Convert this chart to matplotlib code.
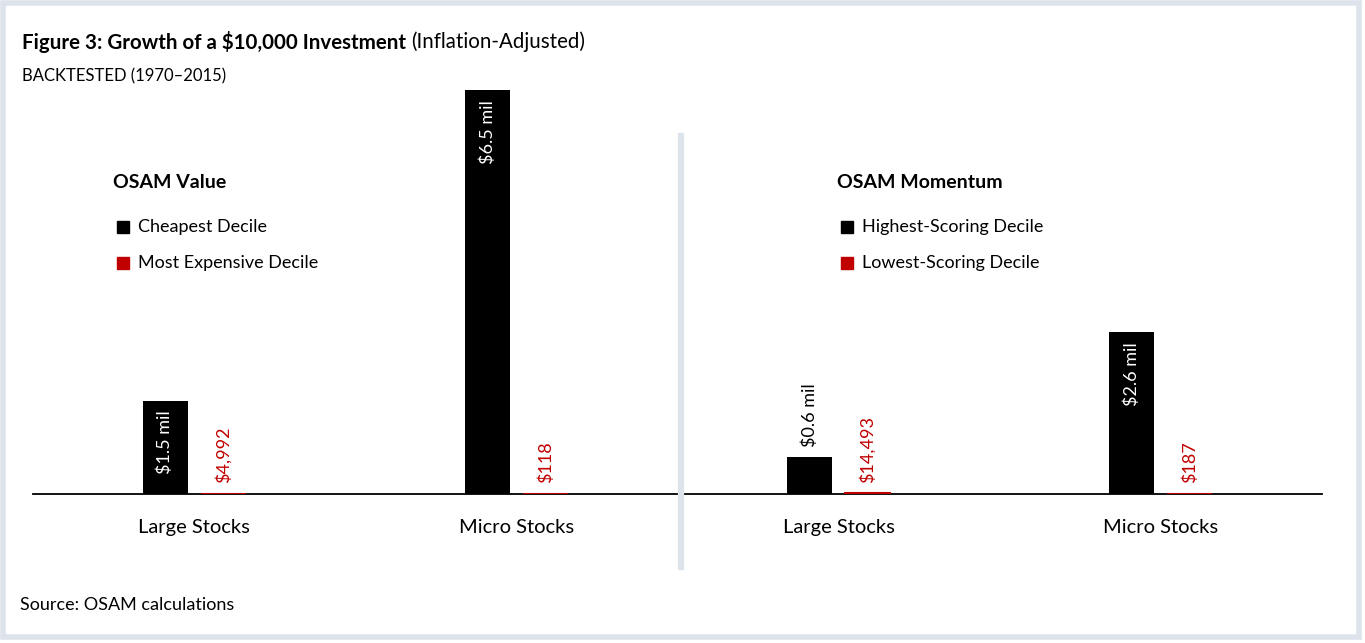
import matplotlib
matplotlib.use('Agg')
import matplotlib.pyplot as plt
from matplotlib.patches import Rectangle
from matplotlib.lines import Line2D
import numpy as np

plt.rcParams['font.family'] = ['Lato', 'DejaVu Sans']

# data (values in $ millions)
categories = ['Large Stocks', 'Micro Stocks', 'Large Stocks', 'Micro Stocks']
top_values = [1.5, 6.5, 0.6, 2.6]
bottom_values = [0.004992, 0.000118, 0.014493, 0.000187]
top_labels = ['$1.5 mil', '$6.5 mil', '$0.6 mil', '$2.6 mil']
bottom_labels = ['$4,992', '$118', '$14,493', '$187']
label_inside = [True, True, False, True]

panel_titles = ['OSAM Value', 'OSAM Momentum']
legend_top = ['Cheapest Decile', 'Highest-Scoring Decile']
legend_bottom = ['Most Expensive Decile', 'Lowest-Scoring Decile']

BLACK = '#000000'
RED = '#c00000'
FRAME = '#dce3ea'

W, H = 1365, 643
fig = plt.figure(figsize=(W / 100, H / 100), dpi=100)


def fx(px):
    return px / W


def fy(py):
    return 1 - py / H


ax = fig.add_axes([fx(33), fy(494), fx(1322) - fx(33), fy(90) - fy(494)])
x = np.arange(len(categories))
bw = 0.14
off = 0.09
ax.bar(x - off, top_values, bw, color=BLACK)
# red bars drawn over the baseline so the tiny ones still show
ax.bar(x + off, bottom_values, bw, color=RED, edgecolor=RED, linewidth=1.5, zorder=3)
ax.set_xlim(-0.5, 3.5)
ax.set_ylim(0, 6.5)
ax.set_yticks([])
ax.set_xticks(x)
ax.set_xticklabels(categories, fontsize=14.5)
ax.tick_params(axis='x', length=0, pad=18)
for s in ['top', 'left', 'right']:
    ax.spines[s].set_visible(False)
ax.spines['bottom'].set_linewidth(1.3)

for i in range(len(categories)):
    if label_inside[i]:
        ax.annotate(top_labels[i], (x[i] - off, top_values[i]), xytext=(0, -7),
                    textcoords='offset points', rotation=90, ha='center', va='top',
                    color='white', fontsize=13)
    else:
        ax.annotate(top_labels[i], (x[i] - off, top_values[i]), xytext=(0, 7),
                    textcoords='offset points', rotation=90, ha='center', va='bottom',
                    color=BLACK, fontsize=13)
    ax.annotate(bottom_labels[i], (x[i] + off, 0), xytext=(0, 8),
                textcoords='offset points', rotation=90, ha='center', va='bottom',
                color=RED, fontsize=13)

# legends for each panel
for lx, title, t1, t2 in zip([113, 837], panel_titles, legend_top, legend_bottom):
    fig.text(fx(lx), fy(183), title, fontsize=14, fontweight='bold', va='center')
    fig.patches.append(Rectangle((fx(lx + 4), fy(233)), fx(12), fy(221) - fy(233),
                                 transform=fig.transFigure, color=BLACK))
    fig.patches.append(Rectangle((fx(lx + 4), fy(269)), fx(12), fy(257) - fy(269),
                                 transform=fig.transFigure, color=RED))
    fig.text(fx(lx + 25), fy(227), t1, fontsize=13, va='center')
    fig.text(fx(lx + 25), fy(263), t2, fontsize=13, va='center')

# divider between panels
fig.add_artist(Line2D([fx(681), fx(681)], [fy(136), fy(567)], color=FRAME, lw=4.5))

# frame
fig.patches.append(Rectangle((fx(3), fy(637)), fx(1356), fy(3) - fy(637), fill=False,
                             edgecolor=FRAME, lw=4, transform=fig.transFigure))

# title: bold part + normal part
t = fig.text(fx(22), fy(42), 'Figure 3: Growth of a $10,000 Investment', fontsize=14.8,
             fontweight='bold', va='center')
fig.canvas.draw()
bb = t.get_window_extent()
fig.text(bb.x1 / W + fx(5), fy(42), '(Inflation-Adjusted)', fontsize=14.8, va='center')
fig.text(fx(22), fy(76), 'BACKTESTED (1970\u20132015)', fontsize=12, va='center')
fig.text(fx(20), fy(605), 'Source: OSAM calculations', fontsize=13, va='center')

plt.savefig('out.png', dpi=100)
